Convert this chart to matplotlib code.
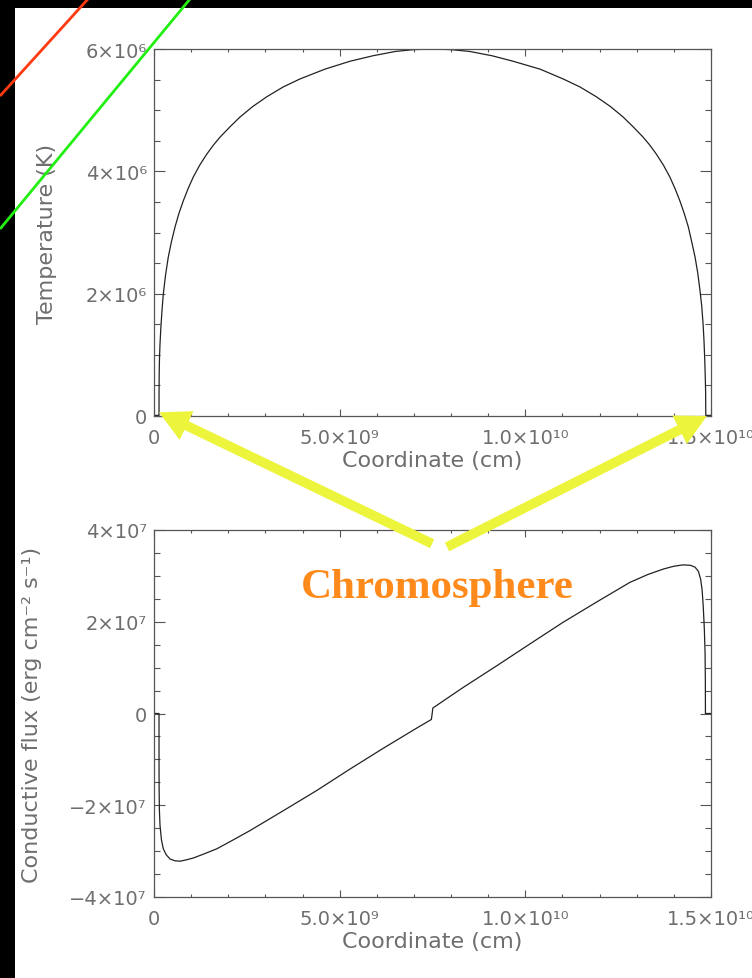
import matplotlib
matplotlib.use('Agg')
import matplotlib.pyplot as plt
from matplotlib.patches import Rectangle
from matplotlib.ticker import MultipleLocator, FixedLocator, FixedFormatter

# loop coordinate (cm) and temperature (K)
s_temp = [0.0, 1.35e8, 1.36e8, 1.40e8, 1.48e8, 1.62e8, 1.85e8, 2.15e8, 2.5e8, 3.1e8,
          3.85e8, 4.7e8, 5.66e8, 6.7e8, 7.9e8, 9.2e8, 1.06e9, 1.23e9, 1.42e9, 1.6e9,
          1.78e9, 2.05e9, 2.32e9, 2.66e9, 3.04e9, 3.48e9, 3.93e9, 4.6e9, 5.28e9, 5.9e9,
          6.5e9, 7.0e9, 7.5e9, 8.0e9, 8.5e9, 9.1e9, 9.67e9, 1.04e10, 1.102e10, 1.147e10,
          1.191e10, 1.229e10, 1.263e10, 1.29e10, 1.317e10, 1.335e10, 1.353e10, 1.372e10,
          1.389e10, 1.403e10, 1.416e10, 1.428e10, 1.439e10, 1.448e10, 1.457e10, 1.464e10,
          1.47e10, 1.475e10, 1.4785e10, 1.481e10, 1.483e10, 1.4845e10, 1.4855e10,
          1.486e10, 1.5e10]
temp = [1e4, 1e4, 4.0e5, 7.0e5, 9.5e5, 1.18e6, 1.45e6, 1.72e6, 1.99e6, 2.30e6,
        2.60e6, 2.85e6, 3.09e6, 3.31e6, 3.52e6, 3.72e6, 3.91e6, 4.10e6, 4.28e6, 4.43e6,
        4.56e6, 4.73e6, 4.89e6, 5.06e6, 5.22e6, 5.38e6, 5.51e6, 5.67e6, 5.80e6, 5.89e6,
        5.96e6, 5.99e6, 6.0e6, 5.99e6, 5.96e6, 5.89e6, 5.80e6, 5.67e6, 5.51e6, 5.38e6,
        5.22e6, 5.06e6, 4.89e6, 4.73e6, 4.56e6, 4.43e6, 4.28e6, 4.10e6,
        3.91e6, 3.72e6, 3.52e6, 3.31e6, 3.09e6, 2.85e6, 2.60e6, 2.35e6,
        2.07e6, 1.80e6, 1.52e6, 1.25e6, 9.5e5, 6.5e5, 4.0e5,
        1e4, 1e4]

# loop coordinate (cm) and conductive flux (erg cm^-2 s^-1)
s_flux = [0.0, 1.35e8, 1.35e8, 1.37e8, 1.45e8, 1.62e8, 2.0e8, 2.5e8, 3.3e8, 4.3e8,
          5.6e8, 7.0e8, 8.7e8, 1.06e9, 1.35e9, 1.69e9, 2.1e9, 2.59e9, 3.48e9, 4.38e9,
          5.28e9, 6.17e9, 7.07e9, 7.47e9, 7.51e9, 8.33e9, 9.23e9, 1.013e10, 1.102e10,
          1.192e10, 1.282e10, 1.33e10, 1.372e10, 1.40e10, 1.425e10, 1.445e10, 1.457e10,
          1.466e10, 1.472e10, 1.476e10, 1.479e10, 1.482e10, 1.484e10, 1.4848e10,
          1.485e10, 1.5e10]
flux = [0.0, 0.0, -8.0e6, -1.57e7, -2.1e7, -2.44e7, -2.75e7, -2.95e7, -3.08e7, -3.17e7,
        -3.21e7, -3.22e7, -3.19e7, -3.15e7, -3.06e7, -2.95e7, -2.77e7, -2.55e7, -2.12e7, -1.68e7,
        -1.21e7, -7.6e6, -3.2e6, -1.3e6, 1.2e6, 5.7e6, 1.04e7, 1.52e7, 1.99e7,
        2.43e7, 2.86e7, 3.03e7, 3.15e7, 3.21e7, 3.24e7, 3.23e7, 3.19e7,
        3.10e7, 2.93e7, 2.70e7, 2.35e7, 1.85e7, 1.34e7, 7.0e6,
        0.0, 0.0]

x_ticks = [0, 5.0e9, 1.0e10, 1.5e10]
x_labels = ['0', '5.0×10⁹', '1.0×10¹⁰', '1.5×10¹⁰']
t_ticks = [0, 2e6, 4e6, 6e6]
t_labels = ['0', '2×10⁶', '4×10⁶', '6×10⁶']
f_ticks = [-4e7, -2e7, 0, 2e7, 4e7]
f_labels = ['−4×10⁷', '−2×10⁷', '0', '2×10⁷', '4×10⁷']

W, H = 752, 979
txt_col = '#6e6e6e'
ax_col = '#555555'
plt.rcParams['font.family'] = ['DejaVu Sans']

fig = plt.figure(figsize=(W / 100, H / 100), dpi=100, facecolor='black')
# white page area
fig.patches.append(Rectangle((15 / W, 0), (W - 15) / W, (H - 9) / H,
                             transform=fig.transFigure, facecolor='white',
                             edgecolor='none', zorder=-1))

def px_axes(left, top, right, bottom):
    return fig.add_axes([left / W, 1 - bottom / H, (right - left) / W, (bottom - top) / H])

ax1 = px_axes(154, 50, 711, 417)
ax2 = px_axes(154, 531, 711, 898)

def style(ax, yticks, ylabels, yminor):
    ax.set_facecolor('none')
    ax.set_xlim(0, 1.5e10)
    ax.xaxis.set_major_locator(FixedLocator(x_ticks))
    ax.xaxis.set_major_formatter(FixedFormatter(x_labels))
    ax.xaxis.set_minor_locator(MultipleLocator(1e9))
    ax.yaxis.set_major_locator(FixedLocator(yticks))
    ax.yaxis.set_major_formatter(FixedFormatter(ylabels))
    ax.yaxis.set_minor_locator(MultipleLocator(yminor))
    ax.tick_params(which='both', direction='in', top=True, right=True,
                   color=ax_col, width=0.8, labelcolor=txt_col, labelsize=14)
    ax.tick_params(axis='x', which='major', length=5, pad=9)
    ax.tick_params(axis='x', which='minor', length=2.5)
    ax.tick_params(axis='y', which='major', length=8, pad=5)
    ax.tick_params(axis='y', which='minor', length=4)
    for sp in ax.spines.values():
        sp.set_color(ax_col)
        sp.set_linewidth(0.9)
    ax.set_xlabel('Coordinate (cm)', color=txt_col, fontsize=16, labelpad=2)

ax1.plot(s_temp, temp, color='#222222', lw=0.9)
ax1.set_ylim(0, 6e6)
style(ax1, t_ticks, t_labels, 5e5)
ax1.set_ylabel('Temperature (K)', color=txt_col, fontsize=16, labelpad=21)

ax2.plot(s_flux, flux, color='#222222', lw=0.9)
ax2.set_ylim(-4e7, 4e7)
style(ax2, f_ticks, f_labels, 5e6)
ax2.set_ylabel('Conductive flux (erg cm⁻² s⁻¹)', color=txt_col, fontsize=16, labelpad=20)

# overlay in pixel units for annotations
ov = fig.add_axes([0, 0, 1, 1])
ov.set_xlim(0, W)
ov.set_ylim(H, 0)
ov.axis('off')
ov.patch.set_alpha(0)

yellow = '#ecf53c'
arrow = dict(width=7, headwidth=23, headlength=22, facecolor=yellow,
             edgecolor='none', shrink=0)
ov.annotate('', xy=(1.35e8, 6e4), xycoords=ax1.transData,
            xytext=(7.49e9, 3.7e7), textcoords=ax2.transData,
            arrowprops=arrow, annotation_clip=False)
ov.annotate('', xy=(1.489e10, 0), xycoords=ax1.transData,
            xytext=(7.89e9, 3.63e7), textcoords=ax2.transData,
            arrowprops=arrow, annotation_clip=False)

ax2.text(7.62e9, 2.54e7, 'Chromosphere', ha='center', va='baseline',
         fontsize=31, fontweight='bold', family='Liberation Serif',
         color='#ff8a1c', zorder=5)

ov.plot([0, 88], [97, 0], color='#ff3a10', lw=2.0, solid_capstyle='butt')
ov.plot([0, 190], [230, 0], color='#22ee11', lw=2.0, solid_capstyle='butt')

fig.savefig('out.png', dpi=100, facecolor=fig.get_facecolor())
